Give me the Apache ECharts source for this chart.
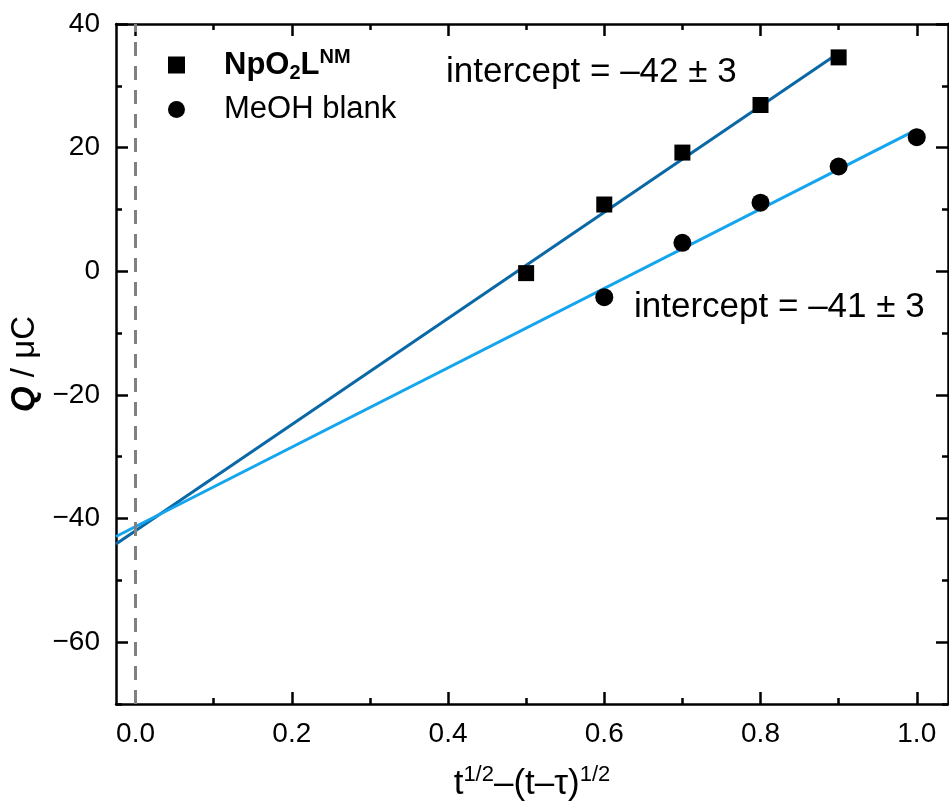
<!DOCTYPE html>
<html>
<head>
<meta charset="utf-8">
<script src="https://cdn.jsdelivr.net/npm/echarts@6/dist/echarts.min.js"></script>
<style>
  html, body { margin: 0; padding: 0; background: #fff; }
  #chart { width: 949px; height: 805px; }
</style>
</head>
<body>
<div id="chart"></div>
<script>
// measured points
var npX = [0.5, 0.6, 0.7, 0.8, 0.9];
var npY = [-0.3, 10.8, 19.2, 26.9, 34.6];
var meohX = [0.6, 0.7, 0.8, 0.9, 1.0];
var meohY = [-4.2, 4.6, 11.1, 16.95, 21.7];

// fit line end points
var npFit = [[-0.025, -44.1], [0.9, 35.3]];
var meohFit = [[-0.025, -42.9], [1.0, 22.9]];

// ticks
var xMajor = [0, 0.2, 0.4, 0.6, 0.8, 1.0];
var xMinor = [0.1, 0.3, 0.5, 0.7, 0.9];
var yMajor = [-60, -40, -20, 0, 20, 40];
var yMinor = [-70, -50, -30, -10, 10, 30];

var font = 'Liberation Sans, Arial, sans-serif';
var xMin = -0.025, xMax = 1.04, yMin = -70, yMax = 40;

function pairs(xs, ys) {
	var out = [];
	for (var i = 0; i < xs.length; i++) out.push([xs[i], ys[i]]);
	return out;
}

function xAxisDef(pos, ticks, len, showLine, showLabel) {
	return {
		type: 'value', position: pos, min: xMin, max: xMax,
		axisLine: { show: showLine, onZero: false, lineStyle: { color: '#000', width: 2.5 } },
		axisTick: { show: true, inside: true, length: len, customValues: ticks, lineStyle: { color: '#000', width: 2.5 } },
		axisLabel: showLabel ? {
			show: true, customValues: ticks, margin: 16,
			fontFamily: font, fontSize: 28, color: '#000',
			formatter: function (v) { return v.toFixed(1); }
		} : { show: false },
		splitLine: { show: false }
	};
}

function yAxisDef(pos, ticks, len, showLine, showLabel) {
	return {
		type: 'value', position: pos, min: yMin, max: yMax,
		axisLine: { show: showLine, onZero: false, lineStyle: { color: '#000', width: 2.5 } },
		axisTick: { show: true, inside: true, length: len, customValues: ticks, lineStyle: { color: '#000', width: 2.5 } },
		axisLabel: showLabel ? {
			show: true, customValues: ticks, margin: 16,
			fontFamily: font, fontSize: 28, color: '#000',
			formatter: function (v) { return String(v).replace('-', '\u2212'); }
		} : { show: false },
		splitLine: { show: false }
	};
}

var xBottom = xAxisDef('bottom', xMajor, 12, true, true);
xBottom.name = 't{sup|1/2}\u2013(t\u2013\u03c4){sup|1/2}';
xBottom.nameLocation = 'middle';
xBottom.nameGap = 60;
xBottom.nameTextStyle = {
	fontFamily: font, fontSize: 35, color: '#000', lineHeight: 40,
	rich: { sup: { fontFamily: font, fontSize: 22, color: '#000', lineHeight: 20, verticalAlign: 'top' } }
};

var yLeft = yAxisDef('left', yMajor, 12, true, true);
yLeft.name = '{q|Q} / \u03bcC';
yLeft.nameLocation = 'middle';
yLeft.nameRotate = 90;
yLeft.nameGap = 75;
yLeft.nameTextStyle = {
	fontFamily: font, fontSize: 33, color: '#000',
	rich: { q: { fontFamily: font, fontSize: 33, fontWeight: 'bold', fontStyle: 'italic', color: '#000' } }
};

var myChart = echarts.init(document.getElementById('chart'));
var option = {
	backgroundColor: '#fff',
	animation: false,
	grid: { left: 116, right: 1, top: 24, bottom: 101, outerBoundsMode: 'none', containLabel: false },
	xAxis: [
		xBottom,
		xAxisDef('bottom', xMinor, 6, false, false),
		xAxisDef('top', xMajor, 12, true, false),
		xAxisDef('top', xMinor, 6, false, false)
	],
	yAxis: [
		yLeft,
		yAxisDef('left', yMinor, 6, false, false),
		yAxisDef('right', yMajor, 12, true, false),
		yAxisDef('right', yMinor, 6, false, false)
	],
	legend: {
		orient: 'vertical',
		left: 163, top: 42,
		itemWidth: 17, itemHeight: 17, itemGap: 11,
		data: ['NpO2LNM', 'MeOH blank'],
		formatter: function (name) {
			if (name === 'NpO2LNM') return '{b|NpO}{sub|2}{b|L}{sup|NM}';
			return '{n|MeOH blank}';
		},
		textStyle: {
			rich: {
				b: { fontFamily: font, fontSize: 31, fontWeight: 'bold', color: '#000', lineHeight: 36 },
				sub: { fontFamily: font, fontSize: 20, fontWeight: 'bold', color: '#000', lineHeight: 6, verticalAlign: 'bottom' },
				sup: { fontFamily: font, fontSize: 20, fontWeight: 'bold', color: '#000', lineHeight: 16, verticalAlign: 'top' },
				n: { fontFamily: font, fontSize: 31, color: '#000', lineHeight: 36 }
			},
			padding: [0, 0, 0, 34]
		}
	},
	graphic: [
		{ type: 'text', left: 446, top: 55, style: { text: 'intercept = \u201342 \u00b1 3', fontFamily: font, fontSize: 35, fill: '#000' } },
		{ type: 'text', left: 634, top: 290, style: { text: 'intercept = \u201341 \u00b1 3', fontFamily: font, fontSize: 35, fill: '#000' } }
	],
	series: [
		{
			name: 'NpO2LNM fit', type: 'line', data: npFit, showSymbol: false,
			lineStyle: { color: '#0a68a6', width: 3 }, z: 2,
			markLine: {
				silent: true, symbol: 'none', label: { show: false },
				lineStyle: { color: '#808080', width: 3, type: [14, 10] },
				data: [{ xAxis: 0 }]
			}
		},
		{
			name: 'MeOH fit', type: 'line', data: meohFit, showSymbol: false,
			lineStyle: { color: '#14a5ee', width: 3 }, z: 2
		},
		{
			name: 'NpO2LNM', type: 'scatter', data: pairs(npX, npY),
			symbol: 'rect', symbolSize: 16, itemStyle: { color: '#000', opacity: 1 }, z: 3
		},
		{
			name: 'MeOH blank', type: 'scatter', data: pairs(meohX, meohY),
			symbol: 'circle', symbolSize: 18, itemStyle: { color: '#000', opacity: 1 }, z: 3
		}
	]
};
myChart.setOption(option);
</script>
</body>
</html>
